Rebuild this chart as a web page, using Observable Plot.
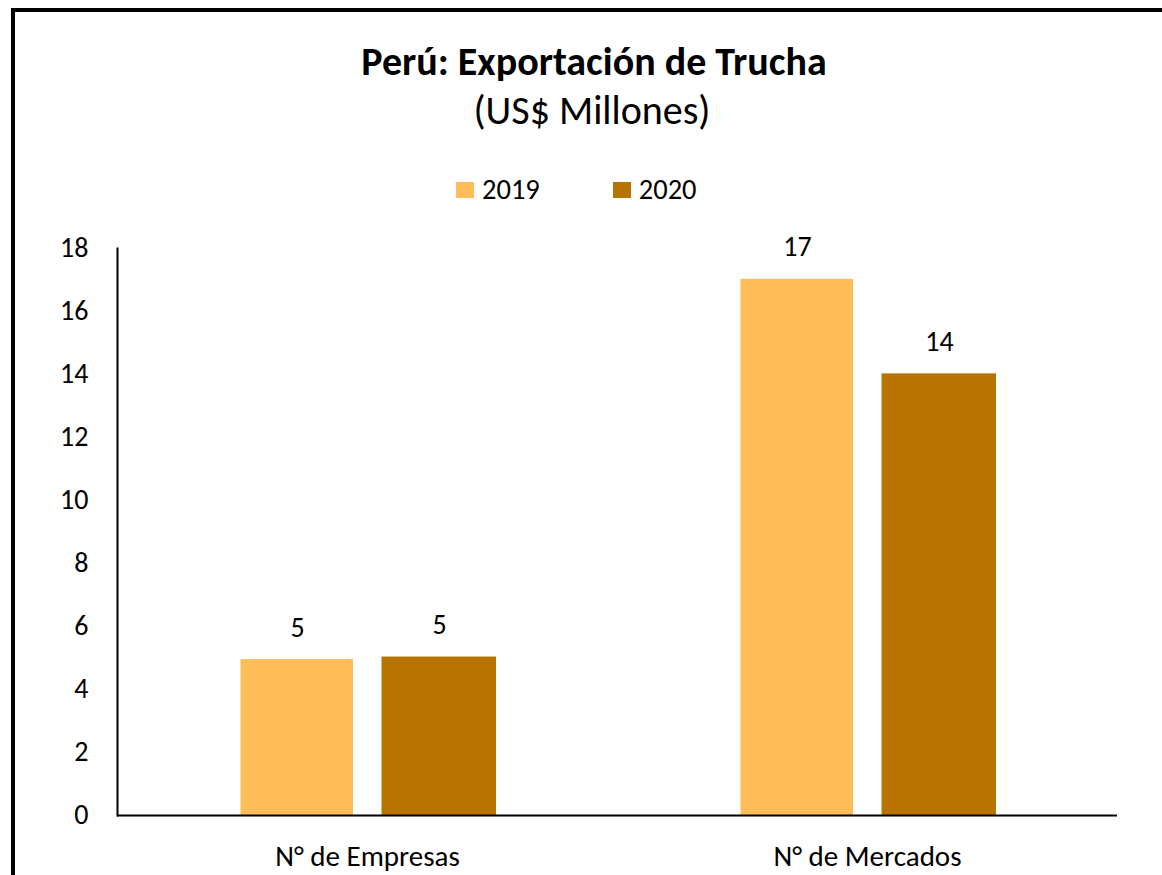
<!DOCTYPE html>
<html>
<head>
<meta charset="utf-8">
<script src="https://cdn.jsdelivr.net/npm/d3@7"></script>
<script src="https://cdn.jsdelivr.net/npm/@observablehq/plot@0.6"></script>
<style>
  html, body { margin: 0; padding: 0; background: #fff; }
  body { width: 1162px; height: 875px; overflow: hidden; position: relative;
         font-family: Calibri, Carlito, Lato, "Noto Sans", sans-serif; color: #000; }
  #border { position: absolute; left: 11px; top: 8px; width: 2000px; height: 2000px;
            border-left: 4px solid #000; border-top: 4px solid #000; }
  #title { position: absolute; left: 0; width: 1188px; top: 38px; text-align: center;
           font-weight: bold; font-size: 40px; line-height: 48px; }
  #subtitle { position: absolute; left: 0; width: 1184px; top: 87px; text-align: center;
              font-size: 40px; line-height: 48px; }
  #legend { position: absolute; left: 456px; top: 175px; display: flex; align-items: center;
            font-size: 28.5px; line-height: 30px; }
  .item { display: flex; align-items: center; margin-right: 73px; }
  .sw { width: 18px; height: 16px; margin-right: 8px; }
  #chart { position: absolute; left: 0; top: 225px; }
</style>
</head>
<body>
<div id="border"></div>
<div id="title">Perú: Exportación de Trucha</div>
<div id="subtitle">(US$ Millones)</div>
<div id="legend"></div>
<div id="chart"></div>
<script>
const categories = ["N° de Empresas", "N° de Mercados"];
const years = ["2019", "2020"];
const values2019 = [4.95, 17.02];
const values2020 = [5.03, 14.02];
const colors = ["#FEBD59", "#B87400"];
const yTicks = [0, 2, 4, 6, 8, 10, 12, 14, 16, 18];

const rows2019 = categories.map((c, i) => ({category: c, year: years[0], value: values2019[i]}));
const rows2020 = categories.map((c, i) => ({category: c, year: years[1], value: values2020[i]}));

const legend = document.getElementById("legend");
years.forEach((y, i) => {
  const it = document.createElement("div");
  it.className = "item";
  it.innerHTML = `<span class="sw" style="background:${colors[i]}"></span><span>${y}</span>`;
  legend.appendChild(it);
});

const font = "Calibri, Carlito, Lato, 'Noto Sans', sans-serif";
const chart = Plot.plot({
  width: 1162,
  height: 650,
  marginTop: 23,
  marginBottom: 60,
  marginLeft: 117,
  marginRight: 45,
  style: {fontFamily: font, fontSize: "28px", color: "#000", background: "transparent"},
  x: {type: "band", domain: categories, padding: 0, label: null},
  y: {domain: [0, 18], label: null},
  marks: [
    Plot.axisY({ticks: yTicks, tickSize: 0, tickPadding: 29, label: null, fontSize: 28}),
    Plot.axisX({tickSize: 0, tickPadding: 30, label: null, fontSize: 29}),
    Plot.barY(rows2019, {x: "category", y: "value", fill: colors[0], insetLeft: 123.5, insetRight: 264}),
    Plot.barY(rows2020, {x: "category", y: "value", fill: colors[1], insetLeft: 264.5, insetRight: 121}),
    Plot.text(rows2019, {x: "category", y: "value", text: d => d3.format(".0f")(d.value), dx: -70, dy: -32, fontSize: 28, fill: "#000"}),
    Plot.text(rows2020, {x: "category", y: "value", text: d => d3.format(".0f")(d.value), dx: 72, dy: -32, fontSize: 28, fill: "#000"}),
    Plot.ruleY([0], {stroke: "#000", strokeWidth: 2}),
    Plot.frame({anchor: "left", stroke: "#000", strokeWidth: 2})
  ]
});
document.getElementById("chart").appendChild(chart);
</script>
</body>
</html>
